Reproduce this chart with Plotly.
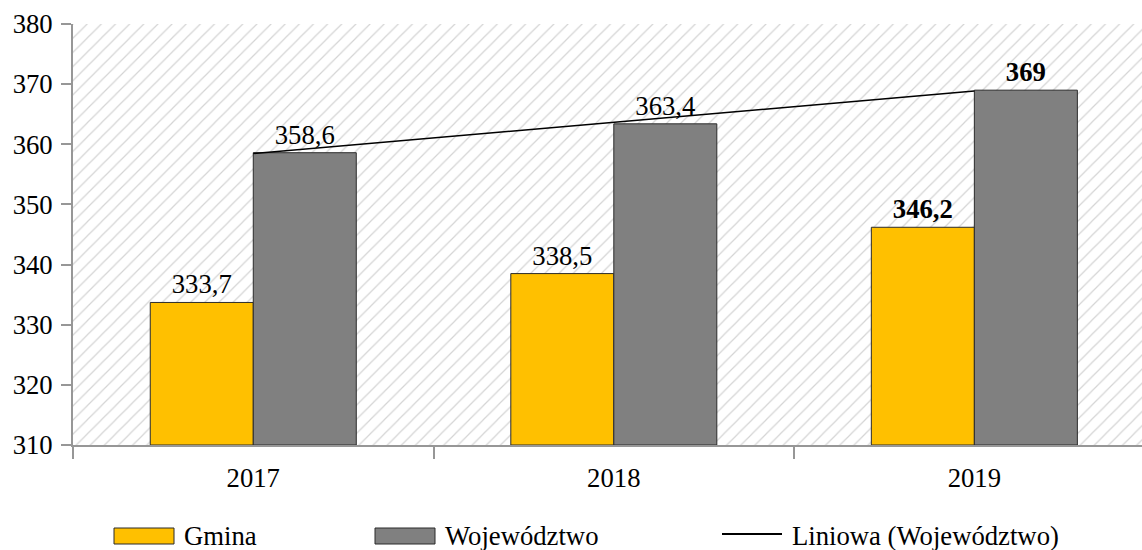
import numpy as np
import plotly.graph_objects as go

years = ["2017", "2018", "2019"]
gmina = [333.7, 338.5, 346.2]
wojewodztwo = [358.6, 363.4, 369.0]
y_ticks = [310, 320, 330, 340, 350, 360, 370, 380]

Y_MIN, Y_MAX = 310, 380
X_MIN, X_MAX = -0.5, 2.465
W, H = 1142, 550
ML, MT, MB = 73, 24, 105
PW, PH = W - ML, H - MT - MB

FONT = "Liberation Serif"
FS = 26.7
GRID = "#979797"

def fmt(v):
    s = ("%.1f" % v).replace(".", ",")
    if s.endswith(",0"):
        s = s[:-2]
    return s

def lbl(vals):
    out = []
    for i, v in enumerate(vals):
        s = fmt(v)
        out.append("<b>%s</b>" % s if i == len(vals) - 1 else s)
    return out

xpos = np.arange(len(years))
bw = 0.2857

coef = np.polyfit(xpos, wojewodztwo, 1)
trend = np.polyval(coef, xpos)

fig = go.Figure()

# hatched plot background
fig.add_trace(go.Bar(
    x=[X_MIN], y=[Y_MAX - Y_MIN], base=[Y_MIN], width=[X_MAX - X_MIN], offset=0,
    marker=dict(color="white", line=dict(width=0),
                pattern=dict(shape="/", fgcolor="#aaaaaa", bgcolor="white", size=10, solidity=0.12)),
    hoverinfo="skip", showlegend=False,
))

fig.add_trace(go.Bar(
    name="Gmina", x=xpos, y=[v - Y_MIN for v in gmina], base=Y_MIN, width=bw, offset=-bw,
    marker=dict(color="#FFC000", line=dict(color="#2b2b2b", width=1)),
    text=lbl(gmina), textposition="outside", cliponaxis=False,
    textfont=dict(family=FONT, size=FS, color="black"), showlegend=False,
))
fig.add_trace(go.Bar(
    name="Województwo", x=xpos, y=[v - Y_MIN for v in wojewodztwo], base=Y_MIN, width=bw, offset=0,
    marker=dict(color="#808080", line=dict(color="#2b2b2b", width=1)),
    text=lbl(wojewodztwo), textposition="outside", cliponaxis=False,
    textfont=dict(family=FONT, size=FS, color="black"), showlegend=False,
))
fig.add_trace(go.Scatter(
    name="Liniowa (Województwo)", x=xpos, y=trend, mode="lines",
    line=dict(color="black", width=1.5), showlegend=False, cliponaxis=False,
))

fig.update_layout(
    width=W, height=H, barmode="overlay",
    margin=dict(l=ML, r=0, t=MT, b=MB, autoexpand=False),
    paper_bgcolor="white", plot_bgcolor="white",
    font=dict(family=FONT, size=FS, color="black"),
)
fig.update_xaxes(
    range=[X_MIN, X_MAX], tickvals=list(xpos), ticktext=years,
    ticks="outside", ticklen=8, tickcolor="rgba(0,0,0,0)",
    showline=True, linecolor=GRID, linewidth=2, showgrid=False, zeroline=False,
    minor=dict(tickvals=[-0.5, 0.5, 1.5], ticks="outside", ticklen=12, tickwidth=2,
               tickcolor=GRID, showgrid=False),
    tickfont=dict(family=FONT, size=FS, color="black"),
)
fig.update_yaxes(
    range=[Y_MIN, Y_MAX], tickvals=y_ticks, ticks="outside", ticklen=10, tickwidth=2,
    tickcolor=GRID, showline=True, linecolor=GRID, linewidth=2,
    showgrid=True, gridcolor=GRID, gridwidth=1.5, zeroline=False,
    ticklabelstandoff=3,
    tickfont=dict(family=FONT, size=FS, color="black"),
)

# custom legend (pixel positions converted to paper coords)
def px(x):
    return (x - ML) / PW

def py(y):
    return (H - MB - y) / PH

legend_items = [("Gmina", "#FFC000", 114, 174, 182), ("Województwo", "#808080", 375, 435, 443)]
for name, col, x0, x1, tx in legend_items:
    fig.add_shape(type="rect", xref="paper", yref="paper",
                  x0=px(x0), x1=px(x1), y0=py(544), y1=py(528),
                  fillcolor=col, line=dict(color="#2b2b2b", width=1))
    fig.add_annotation(xref="paper", yref="paper", x=px(tx), y=py(536), text=name,
                       showarrow=False, xanchor="left", yanchor="middle",
                       font=dict(family=FONT, size=FS, color="black"))
fig.add_shape(type="line", xref="paper", yref="paper",
              x0=px(722), x1=px(782), y0=py(534), y1=py(534),
              line=dict(color="black", width=2))
fig.add_annotation(xref="paper", yref="paper", x=px(790), y=py(536), text="Liniowa (Województwo)",
                   showarrow=False, xanchor="left", yanchor="middle",
                   font=dict(family=FONT, size=FS, color="black"))

fig.write_html(
    "out.html",
    config={"displayModeBar": False},
    post_script="document.body.style.margin='0';document.body.style.overflow='hidden';",
)
